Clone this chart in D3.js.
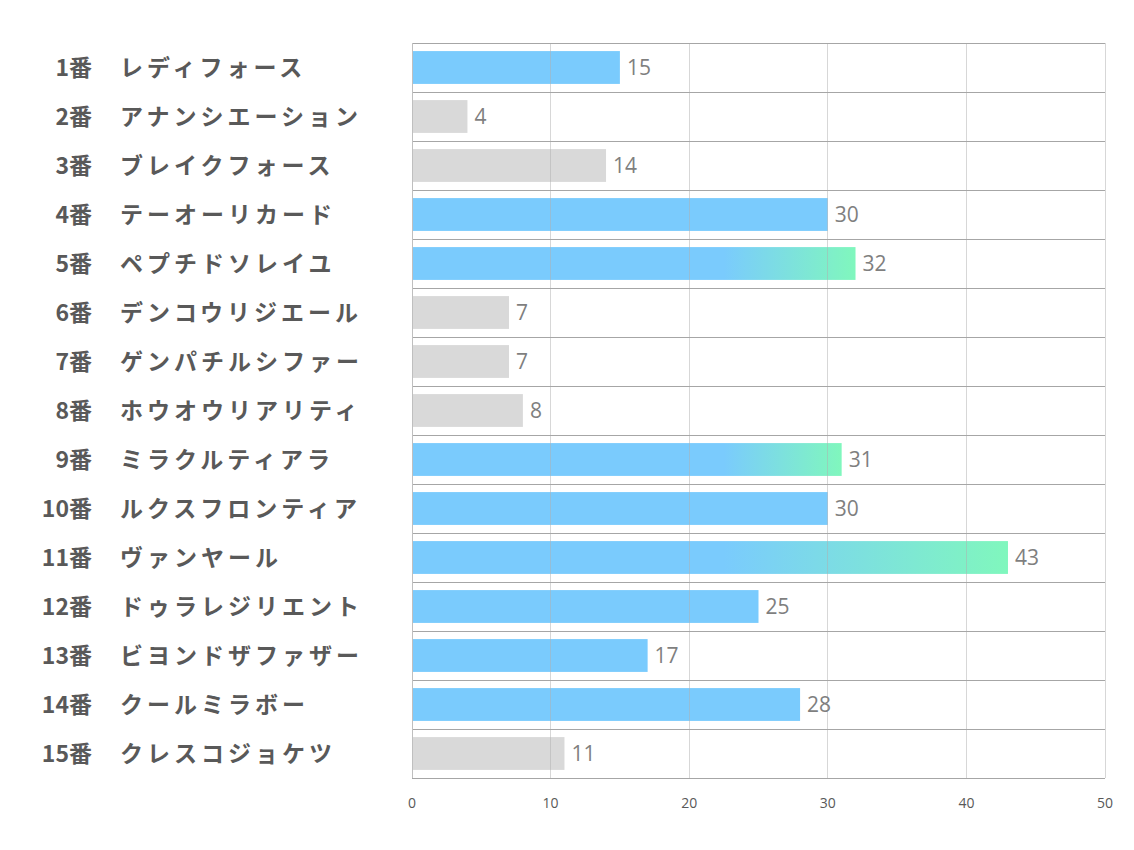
<!DOCTYPE html>
<html>
<head>
<meta charset="utf-8">
<script src="https://cdn.jsdelivr.net/npm/d3@7"></script>
<style>
  body { margin: 0; background: #fff; }
</style>
</head>
<body>
<div id="chart"></div>
<script>
const WIDTH = 1134;
const HEIGHT = 850;
const BLUE = "#7acbfd";
const GREEN = "#80f7bd";
const GRAY = "#d9d9d9";

// --------------- Data ---------------
const numbers = ["1番", "2番", "3番", "4番", "5番", "6番", "7番", "8番", "9番", "10番", "11番", "12番", "13番", "14番", "15番"];
const names = ["レディフォース", "アナンシエーション", "ブレイクフォース", "テーオーリカード", "ペプチドソレイユ",
  "デンコウリジエール", "ゲンパチルシファー", "ホウオウリアリティ", "ミラクルティアラ", "ルクスフロンティア",
  "ヴァンヤール", "ドゥラレジリエント", "ビヨンドザファザー", "クールミラボー", "クレスコジョケツ"];
const values = [15, 4, 14, 30, 32, 7, 7, 8, 31, 30, 43, 25, 17, 28, 11];
// bar style: "blue", "gray", "grad"
const kinds = ["blue", "gray", "gray", "blue", "grad", "gray", "gray", "gray", "grad", "blue", "grad", "blue", "blue", "blue", "gray"];
const ticks = [0, 10, 20, 30, 40, 50];

const margin = { top: 43, right: 29, bottom: 72, left: 412 };
const width = WIDTH - margin.left - margin.right;
const height = HEIGHT - margin.top - margin.bottom;

const svg = d3.select("#chart").append("svg")
  .attr("width", WIDTH)
  .attr("height", HEIGHT);

const defs = svg.append("defs");

const g = svg.append("g")
  .attr("transform", "translate(" + margin.left + "," + margin.top + ")");

const x = d3.scaleLinear().domain([0, 50]).range([0, width]);
const y = d3.scaleBand().domain(d3.range(values.length)).range([0, height]).paddingInner(0.33).paddingOuter(0.165);
const row = d3.scaleBand().domain(d3.range(values.length)).range([0, height]);

// bars
g.selectAll(".bar")
  .data(values)
  .enter()
  .append("rect")
  .attr("class", "bar")
  .attr("x", 0)
  .attr("y", (d, i) => y(i))
  .attr("height", y.bandwidth())
  .attr("width", d => x(d))
  .attr("fill", (d, i) => {
    if (kinds[i] === "gray") return GRAY;
    if (kinds[i] === "blue") return BLUE;
    const id = "grad" + i;
    const lg = defs.append("linearGradient")
      .attr("id", id)
      .attr("gradientUnits", "userSpaceOnUse")
      .attr("x1", x(22.5)).attr("x2", x(d))
      .attr("y1", 0).attr("y2", 0);
    lg.append("stop").attr("offset", 0).attr("stop-color", BLUE);
    lg.append("stop").attr("offset", 1).attr("stop-color", GREEN);
    return "url(#" + id + ")";
  });

// vertical gridlines (drawn over the bars, faint)
g.append("g")
  .selectAll("line")
  .data(ticks.slice(1))
  .enter()
  .append("line")
  .attr("x1", d => x(d)).attr("x2", d => x(d))
  .attr("y1", 0).attr("y2", height)
  .attr("stroke", "#b0b0b0")
  .attr("stroke-opacity", 0.5)
  .attr("stroke-width", 1)
  .attr("shape-rendering", "crispEdges");

// horizontal row separators
g.append("g")
  .selectAll("line")
  .data(d3.range(values.length + 1))
  .enter()
  .append("line")
  .attr("x1", 0).attr("x2", width)
  .attr("y1", d => d * row.bandwidth()).attr("y2", d => d * row.bandwidth())
  .attr("stroke", "#a6a6a6")
  .attr("stroke-width", 1)
  .attr("shape-rendering", "crispEdges");

// left axis line
g.append("line")
  .attr("x1", 0).attr("x2", 0)
  .attr("y1", 0).attr("y2", height)
  .attr("stroke", "#bfbfbf")
  .attr("shape-rendering", "crispEdges");

// value labels
g.selectAll(".label")
  .data(values)
  .enter()
  .append("text")
  .attr("class", "label")
  .attr("x", d => x(d) + 7)
  .attr("y", (d, i) => y(i) + y.bandwidth() / 2 + 7)
  .attr("font-family", "'Open Sans', 'Noto Sans', sans-serif")
  .attr("font-size", 21)
  .attr("fill", "#7f7f7f")
  .text(d => d);

// category labels: number + name
const cat = g.append("g").selectAll("g")
  .data(names)
  .enter()
  .append("g")
  .attr("transform", (d, i) => "translate(0," + (row(i) + row.bandwidth() / 2 + 8) + ")")
  .attr("font-family", "'Noto Sans CJK JP', sans-serif")
  .attr("font-weight", "bold")
  .attr("font-size", 23)
  .attr("fill", "#595959");

cat.append("text")
  .attr("x", 92 - margin.left)
  .attr("text-anchor", "end")
  .text((d, i) => numbers[i]);

cat.append("text")
  .attr("x", 120 - margin.left)
  .attr("letter-spacing", 4)
  .text(d => d);

// x axis tick labels
g.append("g")
  .selectAll("text")
  .data(ticks)
  .enter()
  .append("text")
  .attr("x", d => x(d))
  .attr("y", height + 30)
  .attr("text-anchor", "middle")
  .attr("font-family", "'Open Sans', 'Noto Sans', sans-serif")
  .attr("font-size", 14)
  .attr("fill", "#595959")
  .text(d => d);
</script>
</body>
</html>
